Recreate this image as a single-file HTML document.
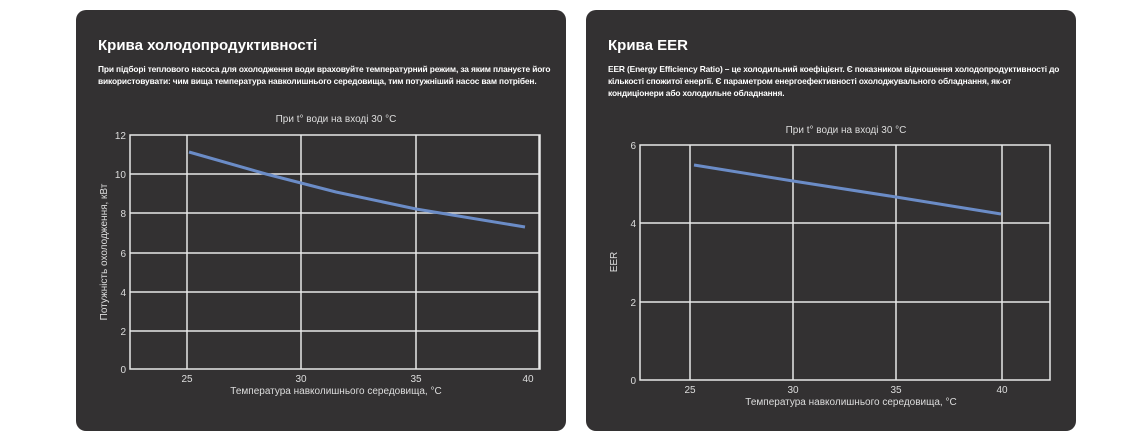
<!DOCTYPE html>
<html><head><meta charset="utf-8"><style>
body{margin:0;width:1148px;height:443px;background:#fff;position:relative;overflow:hidden;font-family:"Liberation Sans",sans-serif}
.p{position:absolute;top:10px;width:490px;height:421px;background:#333132;border-radius:10px;color:#fff}
h2{position:absolute;left:22px;top:27px;margin:0;font-size:15px;font-weight:bold}
.d{position:absolute;left:22px;width:458px;font-size:8.4px;font-weight:bold;line-height:12px;letter-spacing:-0.14px}
svg{position:absolute;left:0;top:0}
</style></head><body>
<div class="p" style="left:76px">
<h2>Крива холодопродуктивності</h2>
<div class="d" style="top:53px">При підборі теплового насоса для охолодження води враховуйте температурний режим, за яким плануєте його використовувати: чим вища температура навколишнього середовища, тим потужніший насос вам потрібен.</div>
<svg width="490" height="421" font-family="Liberation Sans" fill="#ddd" font-size="10">
<text x="260" y="112" text-anchor="middle">При t° води на вході 30 °C</text>
<g stroke="#e8e8e8" stroke-width="1.5" fill="none">
<rect x="54" y="125" width="410" height="234"/>
<path d="M54 164H464M54 203H464M54 243H464M54 282H464M54 321H464M111 125V359M225 125V359M340 125V359M463 125V359"/>
</g>
<g text-anchor="end"><text x="50" y="129">12</text><text x="50" y="168">10</text><text x="50" y="207">8</text><text x="50" y="247">6</text><text x="50" y="286">4</text><text x="50" y="325">2</text><text x="50" y="363">0</text></g>
<g text-anchor="middle"><text x="111" y="372">25</text><text x="225" y="372">30</text><text x="340" y="372">35</text><text x="452" y="372">40</text>
<text x="260" y="384">Температура навколишнього середовища, °C</text>
<text transform="translate(31,242) rotate(-90)">Потужність охолодження, кВт</text></g>
<path d="M113 142L190 164L260 182L340 199L449 217" stroke="#6b8cc7" stroke-width="3" fill="none"/>
</svg></div>
<div class="p" style="left:586px">
<h2>Крива EER</h2>
<div class="d" style="top:53px">EER (Energy Efficiency Ratio) – це холодильний коефіцієнт. Є показником відношення холодопродуктивності до кількості спожитої енергії. Є параметром енергоефективності охолоджувального обладнання, як-от<br>кондиціонери або холодильне обладнання.</div>
<svg width="490" height="421" font-family="Liberation Sans" fill="#ddd" font-size="10">
<text x="260" y="123" text-anchor="middle">При t° води на вході 30 °C</text>
<g stroke="#e8e8e8" stroke-width="1.5" fill="none">
<rect x="54" y="135" width="410" height="235"/>
<path d="M54 213H464M54 292H464M104 135V370M207 135V370M310 135V370M416 135V370"/>
</g>
<g text-anchor="end"><text x="50" y="139">6</text><text x="50" y="217">4</text><text x="50" y="296">2</text><text x="50" y="374">0</text></g>
<g text-anchor="middle"><text x="104" y="383">25</text><text x="207" y="383">30</text><text x="310" y="383">35</text><text x="416" y="383">40</text>
<text x="265" y="395">Температура навколишнього середовища, °C</text>
<text transform="translate(31,252) rotate(-90)">EER</text></g>
<path d="M108 155L207 171L310 187L415 204" stroke="#6b8cc7" stroke-width="3" fill="none"/>
</svg></div>
</body></html>
